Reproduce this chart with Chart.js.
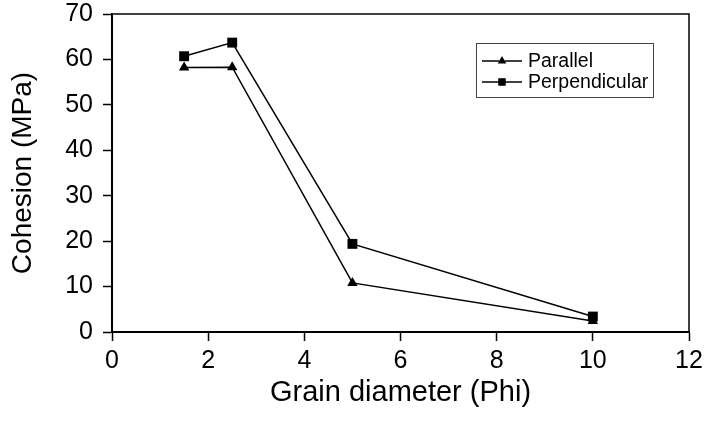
<!DOCTYPE html>
<html>
<head>
<meta charset="utf-8">
<title>Cohesion vs grain diameter</title>
<script src="https://cdn.jsdelivr.net/npm/chart.js@4.4.1/dist/chart.umd.min.js"></script>
<style>
  html, body { margin: 0; padding: 0; background: #fff; }
  #wrap { width: 704px; height: 432px; }
</style>
</head>
<body>
<div id="wrap"><canvas id="cohesionChart" width="704" height="432"></canvas></div>
<script>
// data
const grainPhi = [1.5, 2.5, 5, 10];
const parallelCohesion = [58.2, 58.3, 10.8, 2.4];
const perpendicularCohesion = [60.7, 63.7, 19.4, 3.4];
const seriesNames = ['Parallel', 'Perpendicular'];
const xTicks = [0, 2, 4, 6, 8, 10, 12];
const yTicks = [0, 10, 20, 30, 40, 50, 60, 70];

const FONT = '"Liberation Sans", Arial, sans-serif';

function toPoints(xs, ys) {
    return xs.map((x, i) => ({ x: x, y: ys[i] }));
}

// top + right edges of the plot box
const frameBox = {
    id: 'frameBox',
    afterDraw(chart) {
        const { ctx, chartArea: a } = chart;
        ctx.save();
        ctx.strokeStyle = '#000';
        ctx.lineWidth = 1.5;
        ctx.beginPath();
        ctx.moveTo(a.left, a.top);
        ctx.lineTo(a.right, a.top);
        ctx.lineTo(a.right, a.bottom);
        ctx.stroke();
        ctx.restore();
    }
};

// excel style legend: line with marker, boxed
const boxLegend = {
    id: 'boxLegend',
    afterDraw(chart) {
        const ctx = chart.ctx;
        const box = { x: 476, y: 43, w: 177, h: 54 };
        ctx.save();
        ctx.fillStyle = '#fff';
        ctx.fillRect(box.x, box.y, box.w, box.h);
        ctx.strokeStyle = '#444';
        ctx.lineWidth = 1;
        ctx.strokeRect(box.x + 0.5, box.y + 0.5, box.w, box.h);
        ctx.font = '19.5px ' + FONT;
        ctx.textBaseline = 'middle';
        chart.data.datasets.forEach((ds, i) => {
            const y = box.y + 18 + i * 21;
            ctx.strokeStyle = '#000';
            ctx.lineWidth = 1.5;
            ctx.beginPath();
            ctx.moveTo(box.x + 6, y);
            ctx.lineTo(box.x + 46, y);
            ctx.stroke();
            Chart.helpers.drawPoint(ctx, {
                pointStyle: ds.pointStyle,
                radius: 5,
                borderWidth: 0,
                rotation: 0
            }, box.x + 26, y);
            ctx.fillStyle = '#000';
            ctx.fill();
            ctx.fillText(ds.label, box.x + 52, y + 1);
        });
        ctx.restore();
    }
};

const ctx = document.getElementById('cohesionChart').getContext('2d');
const cohesionChart = new Chart(ctx, {
    type: 'line',
    data: {
        datasets: [
            {
                label: seriesNames[0],
                data: toPoints(grainPhi, parallelCohesion),
                borderColor: '#000',
                backgroundColor: '#000',
                borderWidth: 1.5,
                pointStyle: 'triangle',
                pointRadius: 6,
                pointBorderWidth: 0,
                tension: 0
            },
            {
                label: seriesNames[1],
                data: toPoints(grainPhi, perpendicularCohesion),
                borderColor: '#000',
                backgroundColor: '#000',
                borderWidth: 1.5,
                pointStyle: 'rect',
                pointRadius: 7,
                pointBorderWidth: 0,
                tension: 0
            }
        ]
    },
    options: {
        responsive: false,
        animation: false,
        layout: { padding: { left: 0, right: 15, top: 14, bottom: 0 } },
        plugins: {
            legend: { display: false },
            tooltip: { enabled: false }
        },
        scales: {
            x: {
                type: 'linear',
                min: 0,
                max: 12,
                afterBuildTicks(scale) {
                    scale.ticks = xTicks.map(v => ({ value: v }));
                },
                afterFit(scale) {
                    scale.height = 100;
                    scale.paddingLeft = 0;
                    scale.paddingRight = 0;
                },
                grid: {
                    drawOnChartArea: false,
                    drawTicks: true,
                    tickLength: 9,
                    tickColor: '#000',
                    tickWidth: 1.5
                },
                border: { display: true, color: '#000', width: 2 },
                ticks: {
                    color: '#000',
                    padding: 5,
                    maxRotation: 0,
                    font: { family: FONT, size: 25 }
                },
                title: {
                    display: true,
                    text: 'Grain diameter (Phi)',
                    color: '#000',
                    padding: { top: 0, bottom: 22 },
                    font: { family: FONT, size: 29 }
                }
            },
            y: {
                min: 0,
                max: 70,
                afterBuildTicks(scale) {
                    scale.ticks = yTicks.map(v => ({ value: v }));
                },
                afterFit(scale) {
                    scale.width = 112;
                    scale.paddingTop = 0;
                    scale.paddingBottom = 0;
                },
                grid: {
                    drawOnChartArea: false,
                    drawTicks: true,
                    tickLength: 9,
                    tickColor: '#000',
                    tickWidth: 1.5
                },
                border: { display: true, color: '#000', width: 2 },
                ticks: {
                    color: '#000',
                    padding: 10,
                    font: { family: FONT, size: 25 }
                },
                title: {
                    display: true,
                    text: 'Cohesion (MPa)',
                    color: '#000',
                    padding: { top: 6, bottom: 0 },
                    font: { family: FONT, size: 28 }
                }
            }
        }
    },
    plugins: [frameBox, boxLegend]
});
</script>
</body>
</html>
